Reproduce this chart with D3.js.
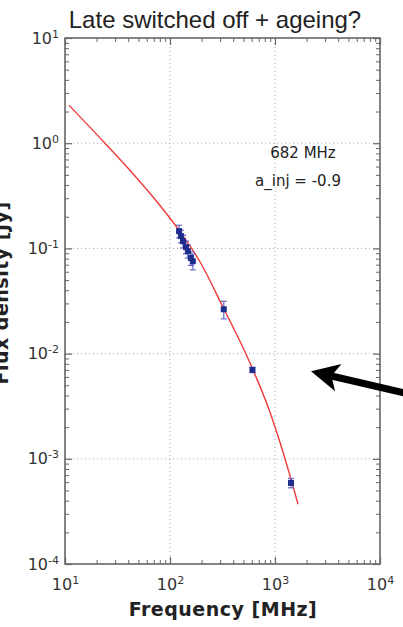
<!DOCTYPE html>
<html>
<head>
<meta charset="utf-8">
<script src="https://cdn.jsdelivr.net/npm/d3@7"></script>
<style>
  body { margin: 0; background: #fff; }
  svg { display: block; }
</style>
</head>
<body>
<div class="canvas"></div>
<script>
// model curve (freq MHz, flux Jy)
const modelFreq = [10.9, 24.0, 46.4, 80.3, 121.8, 193, 326.8, 464, 617, 896, 1452, 1656];
const modelFlux = [2.30, 1.00, 0.488, 0.256, 0.149, 0.0747, 0.0264, 0.0131, 0.00702, 0.00277, 0.000593, 0.00037];

// measurements
const obsFreq = [122, 127, 133, 142, 148, 158, 165, 325, 610, 1420];
const obsFlux = [0.146, 0.131, 0.117, 0.103, 0.094, 0.081, 0.0755, 0.0264, 0.0070, 0.00059];
const obsErr = [0.020, 0.018, 0.016, 0.014, 0.013, 0.012, 0.013, 0.005, 0.0004, 0.00006];

const xTicks = [10, 100, 1000, 10000];
const yTicks = [1e-4, 1e-3, 1e-2, 1e-1, 1, 10];

const titleText = "Late switched off + ageing?";
const xLabel = "Frequency [MHz]";
const yLabel = "Flux density [Jy]";
const notes = ["682 MHz", "a_inj = -0.9"];
// arrow: tail, tip (freq, flux)
const arrowFrom = [19300, 0.00411];
const arrowTo = [2203, 0.0068];

const width = 403, height = 627;
const margin = { top: 38, right: 23, bottom: 63, left: 65 };

const svg = d3.select(".canvas").append("svg")
  .attr("width", width).attr("height", height);

const x = d3.scaleLog().domain([10, 1e4]).range([margin.left, width - margin.right]);
const y = d3.scaleLog().domain([1e-4, 10]).range([height - margin.bottom, margin.top]);

const minorOf = (majors) => {
  const out = [];
  for (let i = 0; i < majors.length - 1; i++)
    for (let k = 2; k <= 9; k++) out.push(majors[i] * k);
  return out;
};

const plotBottom = y.range()[0], plotTop = y.range()[1];
const plotLeft = x.range()[0], plotRight = x.range()[1];

// grid
const grid = svg.append("g").attr("stroke", "#aaa").attr("stroke-width", 1)
  .attr("stroke-dasharray", "1,3");
grid.selectAll(".gx").data(xTicks.slice(1, -1)).join("line")
  .attr("x1", d => x(d)).attr("x2", d => x(d))
  .attr("y1", plotBottom).attr("y2", plotTop);
grid.selectAll(".gy").data(yTicks.slice(1, -1)).join("line")
  .attr("y1", d => y(d)).attr("y2", d => y(d))
  .attr("x1", plotLeft).attr("x2", plotRight);

// axes with inward ticks
const axisColor = "#666";
const sup = (sel) => {
  sel.selectAll("text").each(function (d) {
    const t = d3.select(this);
    t.text("10");
    t.append("tspan").attr("baseline-shift", "super").attr("font-size", "11px")
      .text(Math.round(Math.log10(d)));
  });
};

const drawAxis = (axisFn, scale, majors, transform, labels) => {
  const g = svg.append("g").attr("transform", transform);
  g.call(axisFn(scale).tickValues(minorOf(majors)).tickSize(-4).tickFormat(""));
  g.select(".domain").remove();
  const gm = svg.append("g").attr("transform", transform);
  gm.call(axisFn(scale).tickValues(majors).tickSize(-7).tickPadding(12)
    .tickFormat(labels ? (d => d) : ""));
  gm.select(".domain").remove();
  g.selectAll("line").attr("stroke", axisColor);
  gm.selectAll("line").attr("stroke", axisColor).attr("stroke-width", 1.2);
  if (labels) {
    gm.selectAll("text").attr("font-family", "DejaVu Sans").attr("font-size", "16px")
      .attr("fill", "#333");
    sup(gm);
  }
  return gm;
};

drawAxis(d3.axisBottom, x, xTicks, `translate(0,${plotBottom})`, true)
  .selectAll(".tick text").attr("dy", "0.9em");
drawAxis(d3.axisTop, x, xTicks, `translate(0,${plotTop})`, false);
drawAxis(d3.axisLeft, y, yTicks, `translate(${plotLeft},0)`, true)
  .selectAll(".tick text").attr("x", -6);
drawAxis(d3.axisRight, y, yTicks, `translate(${plotRight},0)`, false);

svg.append("rect")
  .attr("x", plotLeft).attr("y", plotTop)
  .attr("width", plotRight - plotLeft).attr("height", plotBottom - plotTop)
  .attr("fill", "none").attr("stroke", axisColor).attr("stroke-width", 1.6);

// model line
const modelData = modelFreq.map((f, i) => ({ f, s: modelFlux[i] }));
const line = d3.line().x(d => x(d.f)).y(d => y(d.s)).curve(d3.curveMonotoneX);
svg.append("path").datum(modelData)
  .attr("fill", "none").attr("stroke", "#f03a3a").attr("stroke-width", 1.4)
  .attr("d", line);

// data points with error bars
const obs = obsFreq.map((f, i) => ({ f, s: obsFlux[i], e: obsErr[i] }));
const pts = svg.append("g");
const eb = pts.selectAll("g").data(obs).join("g").attr("stroke", "#5a5ac0")
  .attr("stroke-width", 1.3).attr("opacity", 0.85);
eb.append("line")
  .attr("x1", d => x(d.f)).attr("x2", d => x(d.f))
  .attr("y1", d => y(d.s + d.e)).attr("y2", d => y(d.s - d.e));
eb.append("line")
  .attr("x1", d => x(d.f) - 3).attr("x2", d => x(d.f) + 3)
  .attr("y1", d => y(d.s + d.e)).attr("y2", d => y(d.s + d.e));
eb.append("line")
  .attr("x1", d => x(d.f) - 3).attr("x2", d => x(d.f) + 3)
  .attr("y1", d => y(d.s - d.e)).attr("y2", d => y(d.s - d.e));
pts.selectAll("rect").data(obs).join("rect")
  .attr("x", d => x(d.f) - 3).attr("y", d => y(d.s) - 3)
  .attr("width", 6).attr("height", 6)
  .attr("fill", "#1f2d8c");

// annotation text
svg.append("text").attr("x", 303).attr("y", 158).attr("text-anchor", "middle")
  .attr("font-family", "DejaVu Sans").attr("font-size", "15px").attr("fill", "#222")
  .text(notes[0]);
svg.append("text").attr("x", 298).attr("y", 186).attr("text-anchor", "middle")
  .attr("font-family", "DejaVu Sans").attr("font-size", "15px").attr("fill", "#222")
  .text(notes[1]);

// title and labels
svg.append("text").attr("x", 215).attr("y", 28).attr("text-anchor", "middle")
  .attr("font-family", "Liberation Sans").attr("font-size", "24px").attr("fill", "#222")
  .text(titleText);
svg.append("text").attr("x", 223).attr("y", 616).attr("text-anchor", "middle")
  .attr("font-family", "DejaVu Sans").attr("font-weight", "bold").attr("font-size", "19px")
  .attr("letter-spacing", "0.5px").attr("fill", "#222").text(xLabel);
// y label sits partly outside the left edge, as in the source figure
svg.append("text").attr("transform", "translate(8,293) rotate(-90)")
  .attr("text-anchor", "middle")
  .attr("font-family", "DejaVu Sans").attr("font-weight", "bold").attr("font-size", "19px")
  .attr("letter-spacing", "0.5px").attr("fill", "#222").text(yLabel);

// arrow
const ax0 = x(arrowFrom[0]), ay0 = y(arrowFrom[1]);
const ax1 = x(arrowTo[0]), ay1 = y(arrowTo[1]);
const ang = Math.atan2(ay1 - ay0, ax1 - ax0);
const ux = Math.cos(ang), uy = Math.sin(ang);
const headLen = 28, headW = 14, notch = 21;
const bx = ax1 - ux * headLen, by = ay1 - uy * headLen;
const nx = ax1 - ux * notch, ny = ay1 - uy * notch;
svg.append("line")
  .attr("x1", ax0).attr("y1", ay0).attr("x2", nx).attr("y2", ny)
  .attr("stroke", "#000").attr("stroke-width", 7);
svg.append("path")
  .attr("d", `M${ax1},${ay1} L${bx - uy * headW},${by + ux * headW} L${nx},${ny} L${bx + uy * headW},${by - ux * headW} Z`)
  .attr("fill", "#000");
</script>
</body>
</html>
